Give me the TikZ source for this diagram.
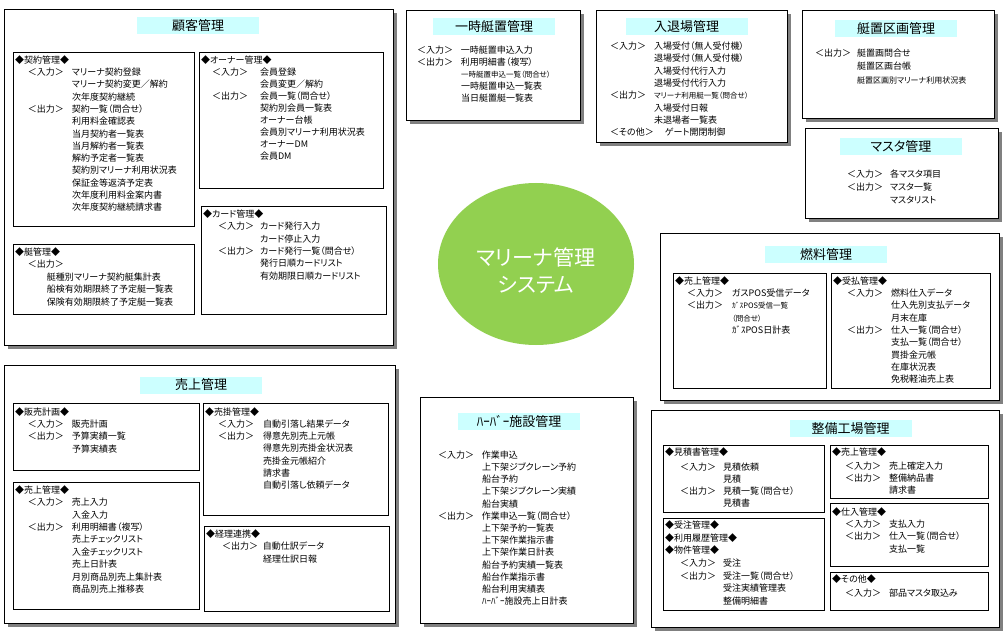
\documentclass[tikz,border=0pt]{standalone}
\usepackage{fontspec}
\setmainfont[RawFeature=+palt]{Noto Sans CJK JP}
\usetikzlibrary{shapes.geometric,shadows}
\definecolor{titlecyan}{RGB}{204,255,255}
\definecolor{ellgreen}{RGB}{146,208,80}
\definecolor{shadowgray}{RGB}{128,128,128}
\tikzset{
  outerbox/.style={draw=black, line width=0.6pt, fill=white, anchor=north west, inner sep=0pt, outer sep=0pt,
    drop shadow={shadow xshift=4pt, shadow yshift=-4pt, fill=shadowgray, opacity=1}},
  innerbox/.style={draw=black, line width=0.6pt, anchor=north west, inner sep=0pt, outer sep=0pt},
  titlebox/.style={fill=titlecyan, minimum width=122pt, minimum height=17pt, inner sep=0pt,
    font=\fontsize{13}{15}\selectfont},
  txtblock/.style={anchor=base west, inner sep=0pt, outer sep=0pt},
  mainell/.style={ellipse, fill=ellgreen, minimum width=196pt, minimum height=162pt, inner sep=0pt},
  maintxt/.style={text=white, align=center, inner sep=0pt, font=\fontsize{21}{27}\selectfont}
}
\newcommand\mkpanel[5]{\node[outerbox, minimum width={(#4-#2)*1pt}, minimum height={(#5-#3)*1pt}] (#1) at (#2,#3) {};}
\newcommand\mksub[5]{\node[innerbox, minimum width={(#4-#2)*1pt}, minimum height={(#5-#3)*1pt}] (#1) at (#2,#3) {};}
\newcommand\mktitle[4]{\node[titlebox] (#1) at (#2,#3) {#4};}
\newcommand\blocktext[7]{\node[txtblock] (#1) at (#2,{#3+3.3}) {\fontsize{9}{#6}\selectfont\begin{tabular}[t]{@{}p{#4pt}@{}p{#5pt}@{}l@{}}#7\end{tabular}};}
\newcommand\hdr[1]{\multicolumn{3}{@{}l@{}}{#1}}
\newcommand\sml[1]{{\fontsize{7.5}{9}\selectfont #1}}
\begin{document}
\begin{tikzpicture}[x=1pt,y=-1pt]
\useasboundingbox (0,0) rectangle (1008,636);
\fill[white] (0,0) rectangle (1008,636);

% ---------- 顧客管理 ----------
\mkpanel{kokyaku}{4}{9}{393}{345}
\mktitle{kokyakuT}{198}{25.5}{顧客管理}
\mksub{keiyaku}{13}{52}{194}{226}
\blocktext{keiyakuX}{15}{60}{13}{44}{12.3}{\hdr{◆契約管理◆}\\ & ＜入力＞ & マリーナ契約登録\\ && マリーナ契約変更／解約\\ && 次年度契約継続\\ & ＜出力＞ & 契約一覧（問合せ）\\ && 利用料金確認表\\ && 当月契約者一覧表\\ && 当月解約者一覧表\\ && 解約予定者一覧表\\ && 契約別マリーナ利用状況表\\ && 保証金等返済予定表\\ && 次年度利用料金案内書\\ && 次年度契約継続請求書}
\mksub{owner}{199}{52}{383}{188}
\blocktext{ownerX}{201}{60}{11}{48}{12}{\hdr{◆オーナー管理◆}\\ & ＜入力＞ & 会員登録\\ && 会員変更／解約\\ & ＜出力＞ & 会員一覧（問合せ）\\ && 契約別会員一覧表\\ && オーナー台帳\\ && 会員別マリーナ利用状況表\\ && オーナーDM\\ && 会員DM}
\mksub{tei}{13}{244}{194}{314}
\blocktext{teiX}{15}{251.7}{13}{19}{12.6}{\hdr{◆艇管理◆}\\ & \multicolumn{2}{@{}l@{}}{＜出力＞}\\ && 艇種別マリーナ契約艇集計表\\ && 船検有効期限終了予定艇一覧表\\ && 保険有効期限終了予定艇一覧表}
\mksub{card}{201}{206}{386}{314}
\blocktext{cardX}{203}{214}{15}{42}{12.4}{\hdr{◆カード管理◆}\\ & ＜入力＞ & カード発行入力\\ && カード停止入力\\ & ＜出力＞ & カード発行一覧（問合せ）\\ && 発行日順カードリスト\\ && 有効期限日順カードリスト}

% ---------- 一時艇置管理 ----------
\mkpanel{ichiji}{406}{10}{580}{120}
\mktitle{ichijiT}{494}{27}{一時艇置管理}
\blocktext{ichijiX}{417}{50}{0}{44}{12.1}{& ＜入力＞ & 一時艇置申込入力\\ & ＜出力＞ & 利用明細書（複写）\\ && \sml{一時艇置申込一覧（問合せ）}\\ && 一時艇置申込一覧表\\ && 当日艇置艇一覧表}

% ---------- 入退場管理 ----------
\mkpanel{nyutai}{596}{10}{787}{142}
\mktitle{nyutaiT}{686.5}{26.5}{入退場管理}
\blocktext{nyutaiX}{610}{46.3}{0}{44}{12.3}{& ＜入力＞ & 入場受付（無人受付機）\\ && 退場受付（無人受付機）\\ && 入場受付代行入力\\ && 退場受付代行入力\\ & ＜出力＞ & \sml{マリーナ利用艇一覧（問合せ）}\\ && 入場受付日報\\ && 未退場者一覧表\\ & \multicolumn{2}{@{}l@{}}{\makebox[55pt][l]{＜その他＞}ゲート開閉制御}}

% ---------- 艇置区画管理 ----------
\mkpanel{kukaku}{802}{10}{994}{118}
\mktitle{kukakuT}{896}{29}{艇置区画管理}
\blocktext{kukakuX}{815}{53.3}{0}{42}{13.3}{& ＜出力＞ & 艇置画問合せ\\ && 艇置区画台帳\\ && {\fontsize{8}{9}\selectfont 艇置区画別マリーナ利用状況表}}

% ---------- マスタ管理 ----------
\mkpanel{master}{805}{128}{998}{218}
\mktitle{masterT}{901}{147}{マスタ管理}
\blocktext{masterX}{847}{174}{0}{43}{13}{& ＜入力＞ & 各マスタ項目\\ & ＜出力＞ & マスタ一覧\\ && マスタリスト}

% ---------- 燃料管理 ----------
\mkpanel{nenryo}{660}{233}{999}{400}
\mktitle{nenryoT}{826}{254.5}{燃料管理}
\mksub{nUri}{673}{273}{826}{388}
\blocktext{nUriX}{675}{281}{12}{45}{12.3}{\hdr{◆売上管理◆}\\ & ＜入力＞ & ガスPOS受信データ\\ & ＜出力＞ & \sml{ｶﾞｽPOS受信一覧}\\ && \sml{（問合せ）}\\ && ｶﾞｽPOS日計表}
\mksub{nUke}{831}{273}{990}{388}
\blocktext{nUkeX}{833}{281}{14}{44}{12.3}{\hdr{◆受払管理◆}\\ & ＜入力＞ & 燃料仕入データ\\ && 仕入先別支払データ\\ && 月末在庫\\ & ＜出力＞ & 仕入一覧（問合せ）\\ && 支払一覧（問合せ）\\ && 買掛金元帳\\ && 在庫状況表\\ && 免税軽油売上表}

% ---------- 売上管理 ----------
\mkpanel{uriage}{4}{365}{395}{623}
\mktitle{uriageT}{201}{385}{売上管理}
\mksub{hanbai}{13}{403}{199}{470}
\blocktext{hanbaiX}{15}{412}{13}{44}{12.3}{\hdr{◆販売計画◆}\\ & ＜入力＞ & 販売計画\\ & ＜出力＞ & 予算実績一覧\\ && 予算実績表}
\mksub{uUri}{13}{482}{199}{609}
\blocktext{uUriX}{15}{490}{13}{44}{12.4}{\hdr{◆売上管理◆}\\ & ＜入力＞ & 売上入力\\ && 入金入力\\ & ＜出力＞ & 利用明細書（複写）\\ && 売上チェックリスト\\ && 入金チェックリスト\\ && 売上日計表\\ && 月別商品別売上集計表\\ && 商品別売上推移表}
\mksub{urikake}{203}{403}{388}{515}
\blocktext{urikakeX}{205}{412}{13}{45}{12.2}{\hdr{◆売掛管理◆}\\ & ＜入力＞ & 自動引落し結果データ\\ & ＜出力＞ & 得意先別売上元帳\\ && 得意先別売掛金状況表\\ && 売掛金元帳紹介\\ && 請求書\\ && 自動引落し依頼データ}
\mksub{keiri}{204}{526}{389}{611}
\blocktext{keiriX}{206}{534}{16}{41}{12.5}{\hdr{◆経理連携◆}\\ & ＜出力＞ & 自動仕訳データ\\ && 経理仕訳日報}

% ---------- ハーバー施設管理 ----------
\mkpanel{harbor}{420}{397}{633}{623}
\mktitle{harborT}{519}{421}{ﾊｰﾊﾞｰ施設管理}
\blocktext{harborX}{438}{455}{0}{44}{12.2}{& ＜入力＞ & 作業申込\\ && 上下架ジブクレーン予約\\ && 船台予約\\ && 上下架ジブクレーン実績\\ && 船台実績\\ & ＜出力＞ & 作業申込一覧（問合せ）\\ && 上下架予約一覧表\\ && 上下架作業指示書\\ && 上下架作業日計表\\ && 船台予約実績一覧表\\ && 船台作業指示書\\ && 船台利用実績表\\ && ﾊｰﾊﾞｰ施設売上日計表}

% ---------- 整備工場管理 ----------
\mkpanel{seibi}{651}{410}{999}{627}
\mktitle{seibiT}{850.5}{428.5}{整備工場管理}
\mksub{mitsumori}{663}{445}{824}{512}
\blocktext{mitsumoriX}{665}{452}{15}{43}{12.2}{\hdr{◆見積書管理◆}\\[2.5pt] & ＜入力＞ & 見積依頼\\ && 見積\\ & ＜出力＞ & 見積一覧（問合せ）\\ && 見積書}
\mksub{juchu}{663}{518}{824}{610}
\blocktext{juchuX}{665}{525}{15}{43}{12.7}{\hdr{◆受注管理◆}\\ \hdr{◆利用履歴管理◆}\\ \hdr{◆物件管理◆}\\ & ＜入力＞ & 受注\\ & ＜出力＞ & 受注一覧（問合せ）\\ && 受注実績管理表\\ && 整備明細書}
\mksub{sUri}{830}{445}{988}{498}
\blocktext{sUriX}{832}{452}{13}{44}{12.2}{\hdr{◆売上管理◆}\\[1.5pt] & ＜入力＞ & 売上確定入力\\ & ＜出力＞ & 整備納品書\\ && 請求書}
\mksub{shiire}{830}{503}{988}{566}
\blocktext{shiireX}{832}{512}{13}{44}{12.3}{\hdr{◆仕入管理◆}\\ & ＜入力＞ & 支払入力\\ & ＜出力＞ & 仕入一覧（問合せ）\\ && 支払一覧}
\mksub{sonota}{830}{572}{988}{610}
\blocktext{sonotaX}{832}{579}{13}{44}{14}{\hdr{◆その他◆}\\ & ＜入力＞ & 部品マスタ取込み}

% ---------- center ----------
\node[mainell] (center) at (536,264) {};
\node[maintxt] (centerT) at (536,271) {マリーナ管理\\システム};
\end{tikzpicture}
\end{document}
